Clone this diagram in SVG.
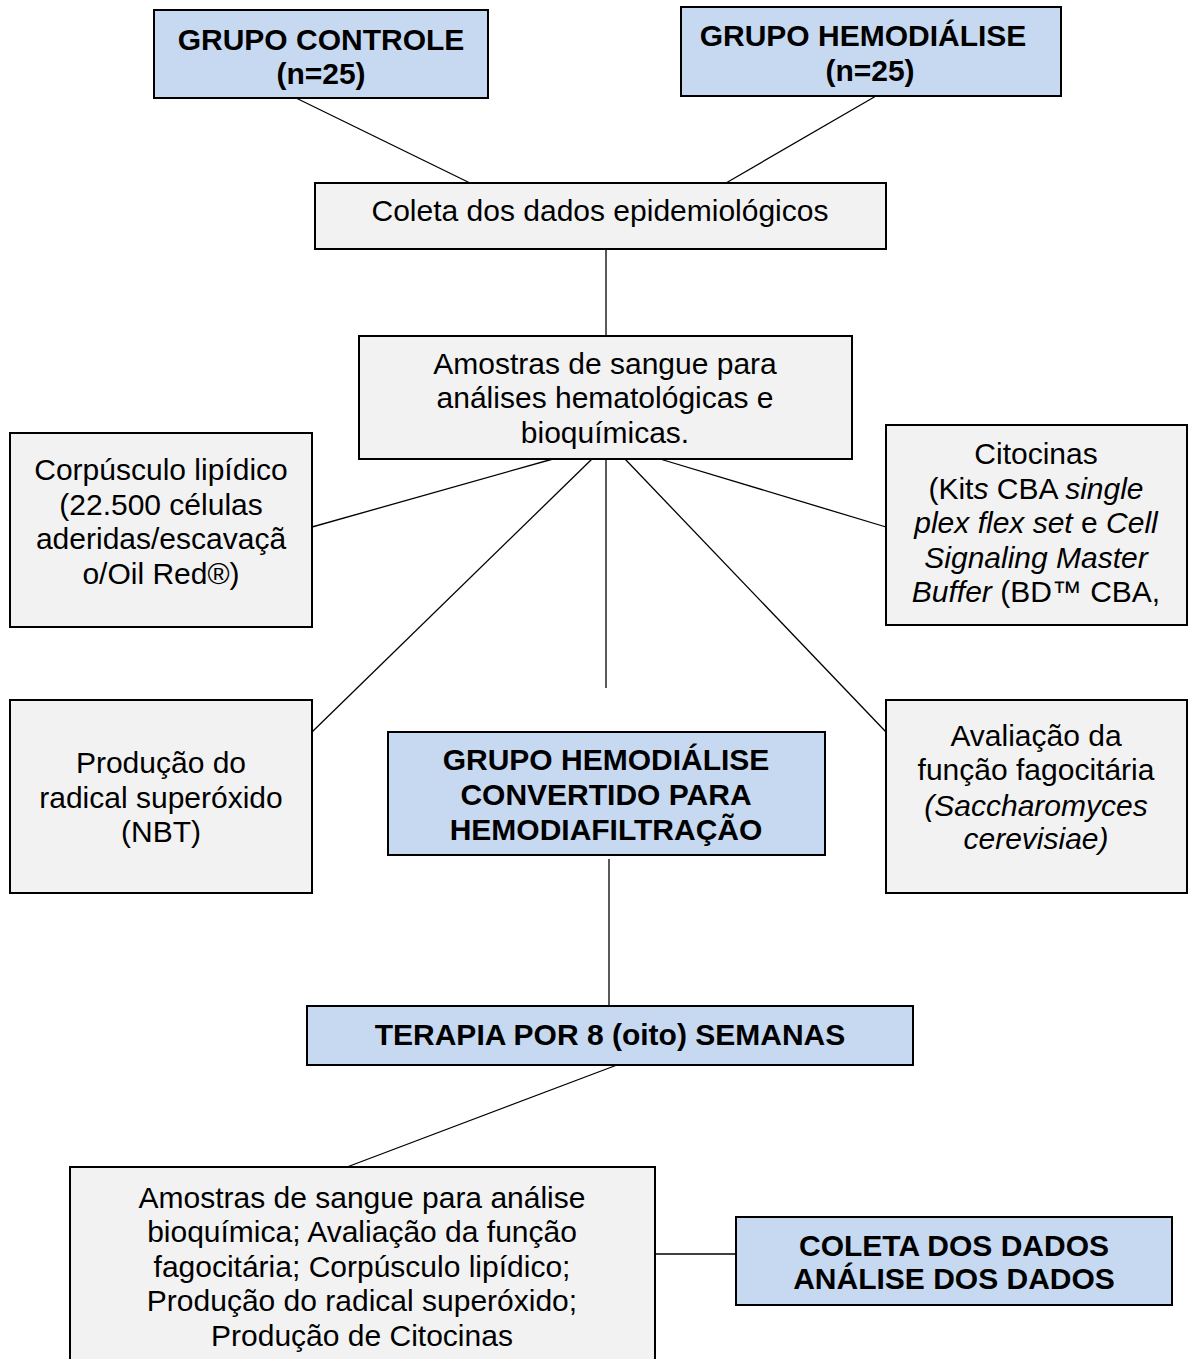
<svg xmlns="http://www.w3.org/2000/svg" width="1190" height="1359" viewBox="0 0 1190 1359">
<style>
.box{fill:#f2f2f2;stroke:#000;stroke-width:2}
.blue{fill:#c6d9f1;stroke:#000;stroke-width:2}
text{font-family:"Liberation Sans",Arial,sans-serif;font-size:30px;fill:#000;text-anchor:middle}
.b{font-weight:bold}
.i{font-style:italic}
.con line{stroke:#000;stroke-width:1.3}
</style>
<rect width="1190" height="1359" fill="#fff"/>
<g class="con">
<line x1="296" y1="98" x2="470" y2="183"/>
<line x1="876" y1="96" x2="726" y2="183"/>
<line x1="606" y1="249" x2="606" y2="336"/>
<line x1="553" y1="459" x2="312" y2="527"/>
<line x1="592" y1="459" x2="312" y2="732"/>
<line x1="606" y1="459" x2="606" y2="688"/>
<line x1="625" y1="459" x2="886" y2="732"/>
<line x1="660" y1="459" x2="886" y2="527"/>
<line x1="609" y1="859" x2="609" y2="1006"/>
<line x1="617" y1="1065" x2="347" y2="1167"/>
<line x1="655" y1="1254" x2="736" y2="1254"/>
</g>
<g id="grupo-controle">
<rect class="blue" x="154" y="10" width="334" height="88"/>
<text class="b" x="321" y="50">GRUPO CONTROLE</text>
<text class="b" x="321" y="84">(n=25)</text>
</g>
<g id="grupo-hemodialise">
<rect class="blue" x="681" y="7" width="380" height="89"/>
<text class="b" x="863" y="46">GRUPO HEMODIÁLISE</text>
<text class="b" x="870" y="81">(n=25)</text>
</g>
<g id="coleta-epidemiologicos">
<rect class="box" x="315" y="183" width="571" height="66"/>
<text x="600" y="221">Coleta dos dados epidemiológicos</text>
</g>
<g id="amostras">
<rect class="box" x="359" y="336" width="493" height="123"/>
<text x="605" y="374">Amostras de sangue para</text>
<text x="605" y="408">análises hematológicas e</text>
<text x="605" y="443">bioquímicas.</text>
</g>
<g id="corpusculo">
<rect class="box" x="10" y="433" width="302" height="194"/>
<text x="161" y="480">Corpúsculo lipídico</text>
<text x="161" y="515">(22.500 células</text>
<text x="161" y="549">aderidas/escavaçã</text>
<text x="161" y="584">o/Oil Red®)</text>
</g>
<g id="citocinas">
<rect class="box" x="886" y="425" width="301" height="200"/>
<text x="1036" y="464">Citocinas</text>
<text x="1036" y="499">(Kit<tspan class="i">s</tspan> CBA <tspan class="i">single</tspan></text>
<text x="1036" y="533"><tspan class="i">plex flex set</tspan> e <tspan class="i">Cell</tspan></text>
<text x="1036" y="568" class="i">Signaling Master</text>
<text x="1036" y="602"><tspan class="i">Buffer</tspan> (BD™ CBA,</text>
</g>
<g id="superoxido">
<rect class="box" x="10" y="700" width="302" height="193"/>
<text x="161" y="773">Produção do</text>
<text x="161" y="808">radical superóxido</text>
<text x="161" y="842">(NBT)</text>
</g>
<g id="convertido">
<rect class="blue" x="388" y="732" width="437" height="123"/>
<text class="b" x="606" y="770">GRUPO HEMODIÁLISE</text>
<text class="b" x="606" y="805">CONVERTIDO PARA</text>
<text class="b" x="606" y="840">HEMODIAFILTRAÇÃO</text>
</g>
<g id="fagocitaria">
<rect class="box" x="886" y="700" width="301" height="193"/>
<text x="1036" y="746">Avaliação da</text>
<text x="1036" y="780">função fagocitária</text>
<text x="1036" y="816" class="i">(Saccharomyces</text>
<text x="1036" y="849" class="i">cerevisiae)</text>
</g>
<g id="terapia">
<rect class="blue" x="307" y="1006" width="606" height="59"/>
<text class="b" x="610" y="1045">TERAPIA POR 8 (oito) SEMANAS</text>
</g>
<g id="amostras-final">
<rect class="box" x="70" y="1167" width="585" height="200"/>
<text x="362" y="1208">Amostras de sangue para análise</text>
<text x="362" y="1242">bioquímica; Avaliação da função</text>
<text x="362" y="1277">fagocitária; Corpúsculo lipídico;</text>
<text x="362" y="1311">Produção do radical superóxido;</text>
<text x="362" y="1346">Produção de Citocinas</text>
</g>
<g id="coleta-analise">
<rect class="blue" x="736" y="1217" width="436" height="88"/>
<text class="b" x="954" y="1256">COLETA DOS DADOS</text>
<text class="b" x="954" y="1289">ANÁLISE DOS DADOS</text>
</g>
</svg>
